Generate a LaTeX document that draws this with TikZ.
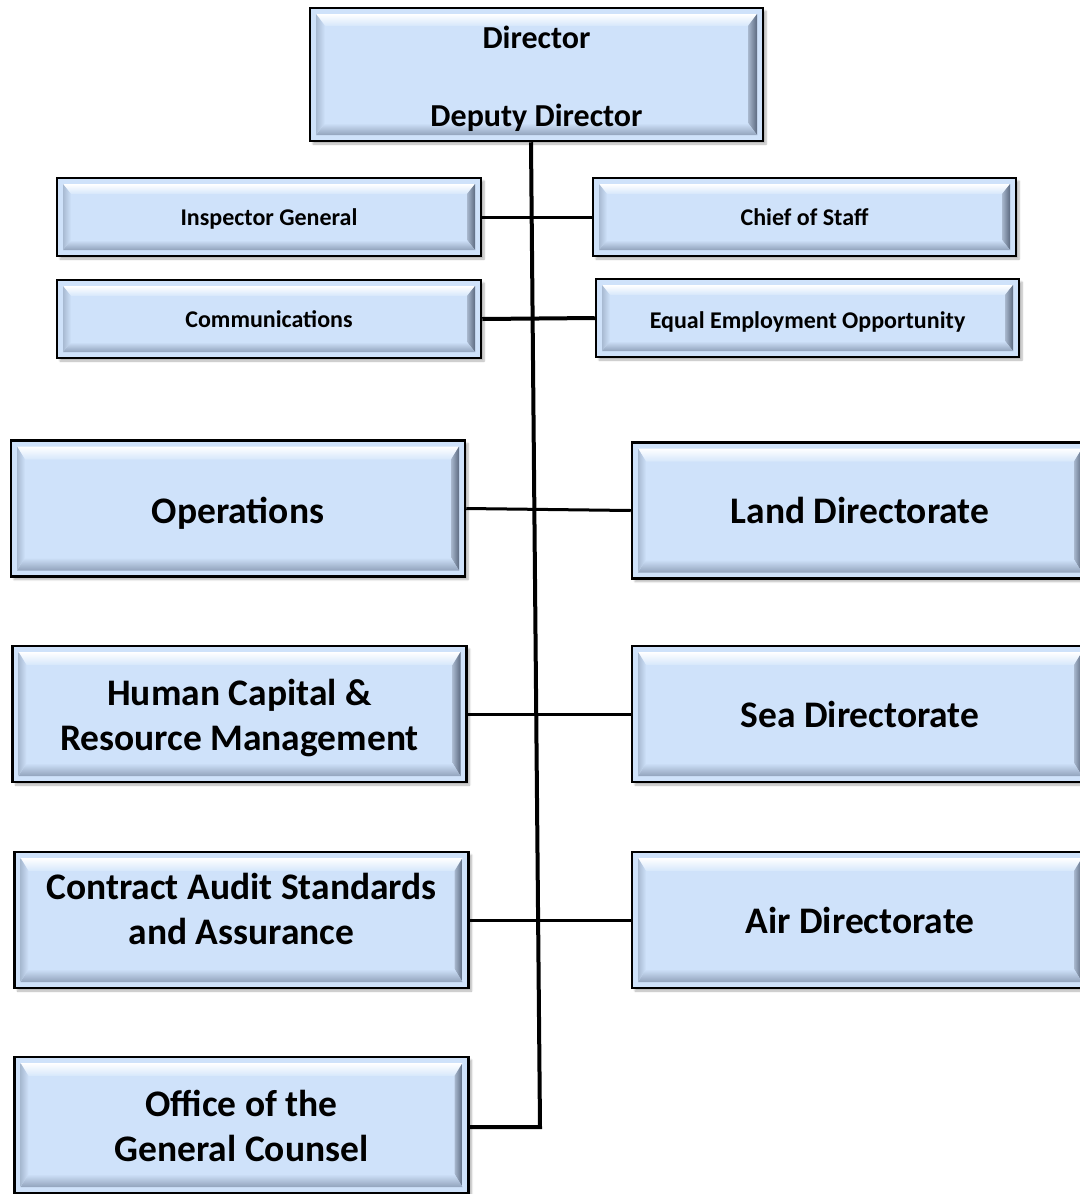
\documentclass[tikz,border=0pt]{standalone}
\usepackage{fontspec}
\setmainfont{Carlito}
\usetikzlibrary{calc,shadows.blur}
\definecolor{boxfill}{RGB}{207,226,250}
\definecolor{toplight}{RGB}{255,255,255}
\definecolor{topend}{RGB}{214,231,251}
\definecolor{leftdark}{RGB}{168,186,210}
\definecolor{rightmid}{RGB}{168,184,206}
\definecolor{rightdark}{RGB}{92,106,128}
\definecolor{botdark}{RGB}{146,163,188}
\newcommand{\bo}{6pt}
\newcommand{\bvh}{12pt}
\newcommand{\bvv}{8pt}
\tikzset{
  bevh/.code={\renewcommand{\bvh}{#1}},
  bevv/.code={\renewcommand{\bvv}{#1}},
  bev/.style={rectangle, draw=black, line width=2.5pt, fill=boxfill, inner sep=0pt, align=center, text depth=0pt,
    blur shadow={shadow xshift=3pt, shadow yshift=-3pt, shadow blur steps=6, shadow opacity=30},
    path picture={
      \path (path picture bounding box.north west) coordinate (nw)
            (path picture bounding box.south east) coordinate (se);
      \coordinate (o1) at ($(nw)+(\bo,-\bo)$);
      \coordinate (o3) at ($(se)+(-\bo,\bo)$);
      \coordinate (o2) at (o3 |- o1);
      \coordinate (o4) at (o1 |- o3);
      \coordinate (i1) at ($(o1)+(\bvv,-\bvh)$);
      \coordinate (i3) at ($(o3)+(-\bvv,\bvh)$);
      \coordinate (i2) at (i3 |- i1);
      \coordinate (i4) at (i1 |- i3);
      \shade[top color=toplight, bottom color=topend] (o1)--(o2)--(i2)--(i1)--cycle;
      \shade[left color=rightmid, right color=rightdark] (o2)--(o3)--(i3)--(i2)--cycle;
      \shade[top color=boxfill, bottom color=botdark] (o3)--(o4)--(i4)--(i3)--cycle;
      \shade[left color=leftdark, right color=boxfill] (o4)--(o1)--(i1)--(i4)--cycle;
    }},
  smallbox/.style={bev, bevh=10pt, bevv=8pt, minimum height=78pt, font=\fontsize{24}{29}\selectfont\bfseries},
  bigbox/.style={bev, bevh=13pt, bevv=8pt, minimum height=136pt, minimum width=454pt, font=\fontsize{37.5}{45}\selectfont\bfseries},
  conn/.style={line width=3pt, black},
  trunk/.style={line width=4pt, black},
}
\begin{document}
\begin{tikzpicture}[x=1pt,y=-1pt]
\useasboundingbox (0,0) rectangle (1079,1194);
\node[bev, bevh=12pt, bevv=9pt, minimum width=453pt, minimum height=133pt, text height=103pt, font=\fontsize{32}{39}\selectfont\bfseries] (dir) at (536.5,74.5) {Director\\[39pt]Deputy Director};
\node[smallbox, minimum width=424pt, text height=16pt] (ig) at (269,217) {Inspector General};
\node[smallbox, minimum width=423pt, text height=16.6pt] (cos) at (804.5,217) {Chief of Staff};
\node[smallbox, minimum width=424pt, text height=16pt] (com) at (269,319) {Communications};
\node[smallbox, minimum width=423pt, text height=21.4pt] (eeo) at (807.5,318) {Equal Employment Opportunity};
\node[bigbox, text height=30.4pt] (ops) at (238,508.5) {Operations};
\node[bigbox, minimum width=456pt, text height=26.4pt] (land) at (860,510.5) {Land Directorate};
\node[bigbox, text height=73pt] (hcrm) at (239.5,714) {Human Capital \&\\Resource Management};
\node[bigbox, minimum width=456pt, text height=26pt] (sea) at (860,714) {Sea Directorate};
\node[bigbox, text height=48pt] (casa) at (241.5,920) {Contract Audit Standards\\and Assurance};
\node[bigbox, minimum width=456pt, text height=26pt] (air) at (860,920) {Air Directorate};
\node[bigbox, text height=72pt] (ogc) at (241.5,1125) {Office of the\\General Counsel};
\coordinate (corner) at (540,1127);
\draw[trunk] ([xshift=-5.5pt]dir.south) -- (corner) -- (ogc.east |- corner);
\draw[conn] (ig.east) -- (cos.west);
\draw[conn, line width=4pt] (com.east) -- (eeo.west);
\draw[conn] (ops.east) -- (land.west);
\draw[conn] (hcrm.east) -- (sea.west);
\draw[conn] (casa.east) -- (air.west);
\end{tikzpicture}
\end{document}
